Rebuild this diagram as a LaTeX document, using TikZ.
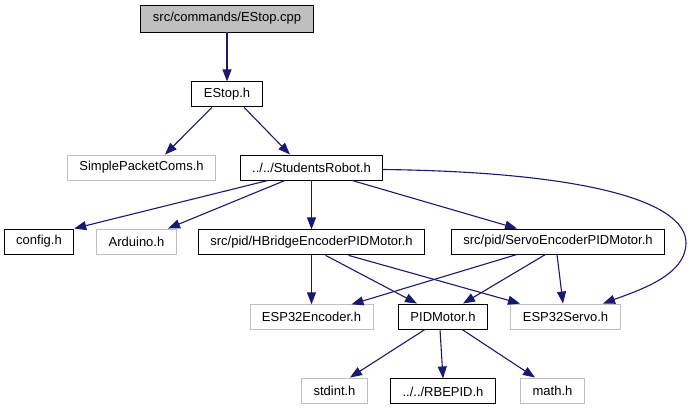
\documentclass[tikz,border=0pt]{standalone}
\usepackage{fontspec}
\setmainfont{Liberation Sans}
\usepackage{xcolor}
\usetikzlibrary{arrows.meta,positioning}
\definecolor{edgeblue}{HTML}{191970}
\definecolor{boxgray}{HTML}{BFBFBF}
\tikzset{
  inc_root/.style={
    draw=black, rectangle, fill=boxgray, line width=0.9pt,
    minimum height=27pt, inner xsep=12pt,
    text centered, font=\fontsize{13}{15}\selectfont
  },
  inc_file/.style={
    draw=black, rectangle, fill=white, line width=0.9pt,
    minimum height=25pt, inner xsep=12pt,
    text centered, font=\fontsize{13}{15}\selectfont
  },
  inc_ext/.style={
    draw=boxgray, rectangle, fill=white, line width=0.9pt,
    minimum height=25pt, inner xsep=12pt,
    text centered, font=\fontsize{13}{15}\selectfont
  },
  inc_arr/.style={-{Triangle[length=12pt,width=9pt]}, edgeblue, line width=1.1pt},
}
\begin{document}
\begin{tikzpicture}[x=1pt, y=-1pt, node distance=49pt]
\useasboundingbox (0,0) rectangle (690,411);

\node[inc_root] (cpp) at (227,18.5) {src/commands/EStop.cpp};
\node[inc_file, below=of cpp]    (estoph)     {EStop.h};
\node[inc_ext]  (simple) at (141.5,167.5)    {SimplePacketComs.h};
\node[inc_file] (robot)  at (311.5,167.5)    {../../StudentsRobot.h};
\node[inc_file] (config) at (39,241.5)       {config.h};
\node[inc_ext]  (arduino) at (136.5,241.5)   {Arduino.h};
\node[inc_file, below=of robot]  (hbridge)    {src/pid/HBridgeEncoderPIDMotor.h};
\node[inc_file] (servo)  at (558,241.5)      {src/pid/ServoEncoderPIDMotor.h};
\node[inc_ext,  below=of hbridge] (encoder)   {ESP32Encoder.h};
\node[inc_file] (pidmotor) at (443,316.5)    {PIDMotor.h};
\node[inc_ext]  (espservo) at (565.5,316.5)  {ESP32Servo.h};
\node[inc_ext]  (stdint) at (334.5,390.5)    {stdint.h};
\node[inc_file, below=of pidmotor] (rbepid)   {../../RBEPID.h};
\node[inc_ext]  (math)   at (552.5,390.5)    {math.h};

% Top of the graph
\draw[inc_arr] (cpp) -- (estoph);
\draw[inc_arr] ([xshift=-15pt]estoph.south) -- ([xshift=23.5pt]simple.north);
\draw[inc_arr] ([xshift=17pt]estoph.south)  -- ([xshift=-21.5pt]robot.north);

% StudentsRobot includes
\draw[inc_arr] ([xshift=-43.5pt]robot.south) -- (config.north east);
\draw[inc_arr] ([xshift=-26.5pt]robot.south) -- ([xshift=31.5pt]arduino.north);
\draw[inc_arr] (robot) -- (hbridge);
\draw[inc_arr] ([xshift=40.5pt]robot.south) -- ([xshift=-41pt]servo.north);
\draw[inc_arr] ([yshift=-2pt]robot.east) .. controls (580,172) and (686,200) .. (686,243)
     .. controls (686,275) and (640,290) .. ([xshift=37.5pt]espservo.north);

% Motor headers
\draw[inc_arr] (hbridge) -- (encoder);
\draw[inc_arr] ([xshift=14pt]hbridge.south) -- ([xshift=-26pt]pidmotor.north);
\draw[inc_arr] ([xshift=37pt]hbridge.south) -- ([xshift=-45.5pt]espservo.north);
\draw[inc_arr] ([xshift=-41pt]servo.south)  -- ([xshift=40pt]encoder.north);
\draw[inc_arr] ([xshift=-12.5pt]servo.south) -- ([xshift=20pt]pidmotor.north);
\draw[inc_arr] ([xshift=-1pt]servo.south)   -- ([xshift=-2.5pt]espservo.north);

% PIDMotor includes
\draw[inc_arr] ([xshift=-18pt]pidmotor.south) -- ([xshift=15.5pt]stdint.north);
\draw[inc_arr] ([xshift=-3pt]pidmotor.south)  -- (rbepid.north);
\draw[inc_arr] ([xshift=19pt]pidmotor.south)  -- ([xshift=-17.5pt]math.north);

\end{tikzpicture}
\end{document}
